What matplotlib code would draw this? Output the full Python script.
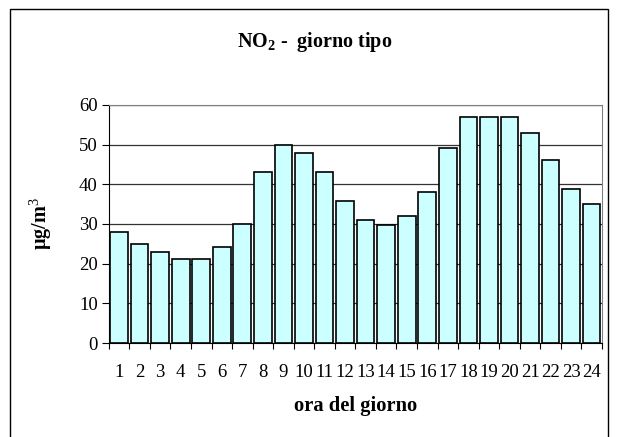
import matplotlib.pyplot as plt
from matplotlib.patches import Rectangle

# hourly NO2 averages (typical day)
hours = list(range(1, 25))
no2 = [28, 25, 23, 21.2, 21.2, 24.3, 30, 43, 50, 47.8, 43, 35.8,
       31.1, 29.8, 32, 38, 49.1, 57, 57, 57, 53, 46.1, 38.8, 35]
hour_labels = [str(h) for h in hours]

plt.rcParams['font.family'] = ['Liberation Serif', 'DejaVu Serif']
plt.rcParams['mathtext.fontset'] = 'custom'
plt.rcParams['mathtext.rm'] = 'Liberation Serif'
plt.rcParams['mathtext.bf'] = 'Liberation Serif:bold'

fig = plt.figure(figsize=(6.18, 4.37), dpi=100)
ax = fig.add_axes([0.176, 0.215, 0.798, 0.545])

ax.bar(hours, no2, width=0.86, color='#ccffff', edgecolor='black',
       linewidth=1.2, zorder=3)

ax.set_xlim(0.5, 24.5)
ax.set_ylim(0, 60)
ax.set_yticks(range(0, 61, 10))
ax.yaxis.grid(True, color='#333333', linewidth=0.9, zorder=0)

# x ticks sit between categories, labels at centres
ax.set_xticks([h + 0.5 for h in range(0, 25)])
ax.set_xticklabels([])
ax.set_xticks(hours, minor=True)
ax.set_xticklabels(hour_labels, minor=True, fontsize=13.5)
ax.tick_params(axis='x', which='minor', length=0, pad=15)
ax.tick_params(axis='x', which='major', length=4, width=0.8, direction='out')
ax.tick_params(axis='y', length=5, width=0.8, labelsize=13.5, pad=3)

for side in ['top', 'right']:
    ax.spines[side].set_color('#808080')
ax.spines['left'].set_color('black')
ax.spines['bottom'].set_color('black')

ax.set_xlabel('ora del giorno', fontsize=14.8, fontweight='bold', labelpad=11)
ax.set_ylabel('µg/m$^{\\mathrm{3}}$', fontsize=14.5, fontweight='bold', labelpad=18)

fig.text(0.509, 0.903, 'NO$_{\\mathbf{2}}$ -  giorno tipo', ha='center', va='center',
         fontsize=14.5, fontweight='bold')

# outer chart border
fig.patches.append(Rectangle((10 / 618, -0.05), 598 / 618, 1.05 - 9 / 437,
                             transform=fig.transFigure, fill=False,
                             edgecolor='black', linewidth=1))

fig.savefig('out.png', dpi=100)
